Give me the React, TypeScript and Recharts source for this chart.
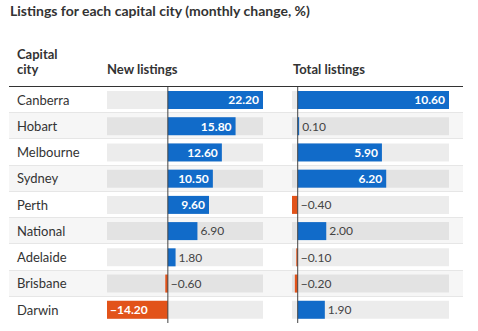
import { BarChart, Bar, XAxis, YAxis, ReferenceLine } from "recharts"

const cities = ["Canberra", "Hobart", "Melbourne", "Sydney", "Perth", "National", "Adelaide", "Brisbane", "Darwin"]
const newListings = [22.2, 15.8, 12.6, 10.5, 9.6, 6.9, 1.8, -0.6, -14.2]
const totalListings = [10.6, 0.1, 5.9, 6.2, -0.4, 2.0, -0.1, -0.2, 1.9]

const data = cities.map((city, i) => ({ city, newL: newListings[i], total: totalListings[i] }))

const BLUE = "#116bc9"
const ORANGE = "#e2531a"
const FONT = "Lato, 'Noto Sans', sans-serif"
const TOP = 87
const ROW_H = 236 / cities.length

const fmt = (v: number) => (v < 0 ? "\u2212" : "") + Math.abs(v).toFixed(2)

function ValueBar(props: any) {
  const { x, y, width, height, payload, k } = props
  const v: number = payload[k]
  const left = Math.min(x, x + width)
  const w = Math.abs(width)
  const zero = v >= 0 ? left : left + w
  const label = fmt(v)
  const inside = w > label.length * 6.5 + 8
  const cy = y + height / 2
  let tx = zero + 3
  let anchor: "start" | "end" = "start"
  if (inside) {
    tx = v >= 0 ? left + w - 4 : left + 3
    anchor = v >= 0 ? "end" : "start"
  } else if (v >= 0) {
    tx = left + w + 3
  }
  return (
    <g>
      <rect x={left} y={y} width={w} height={height} fill={v >= 0 ? BLUE : ORANGE} />
      <text
        x={tx}
        y={cy}
        dy="0.36em"
        textAnchor={anchor}
        fontSize={12}
        fontFamily={FONT}
        fontWeight={inside ? 700 : 400}
        fill={inside ? "#fff" : "#444"}
      >
        {label}
      </text>
    </g>
  )
}

function CityTick(props: any) {
  const { y, payload } = props
  return (
    <text x={8} y={y} dy="0.36em" textAnchor="start" fontSize={13} fontFamily={FONT} fill="#333">
      {payload.value}
    </text>
  )
}

export default function App() {
  return (
    <div style={{ position: "relative", width: 478, height: 331, background: "#fff", fontFamily: FONT, color: "#333" }}>
      <style>{"body{margin:0}"}</style>
      <div style={{ position: "absolute", left: 10, top: 2, fontSize: 14, fontWeight: 700, lineHeight: "18px" }}>
        Listings for each capital city (monthly change, %)
      </div>
      <div style={{ position: "absolute", left: 17, top: 47, fontSize: 13, fontWeight: 700, lineHeight: "15px" }}>
        Capital
        <br />
        city
      </div>
      <div style={{ position: "absolute", left: 107, top: 62, fontSize: 13, fontWeight: 700, lineHeight: "15px" }}>
        New listings
      </div>
      <div style={{ position: "absolute", left: 293, top: 62, fontSize: 13, fontWeight: 700, lineHeight: "15px" }}>
        Total listings
      </div>

      <div style={{ position: "absolute", left: 9, top: TOP, width: 454 }}>
        {cities.map((c, i) => (
          <div
            key={c}
            style={{
              height: ROW_H,
              boxSizing: "border-box",
              background: i % 2 ? "#f6f6f6" : "#fff",
              borderBottom: i < cities.length - 1 ? "1px solid #e6e6e6" : "none",
            }}
          />
        ))}
      </div>
      <div style={{ position: "absolute", left: 9, top: TOP - 1, width: 454, height: 1, background: "#333" }} />

      <div style={{ position: "absolute", left: 9, top: TOP }}>
        <BarChart width={254} height={236} data={data} layout="vertical" margin={{ top: 0, right: 0, bottom: 0, left: 0 }}>
          <XAxis type="number" domain={["dataMin", "dataMax"]} hide />
          <YAxis type="category" dataKey="city" width={98} axisLine={false} tickLine={false} tick={<CityTick />} />
          <Bar
            dataKey="newL"
            barSize={18}
            isAnimationActive={false}
            background={{ fill: "rgba(0,0,0,0.075)" }}
            shape={(p: any) => <ValueBar {...p} k="newL" />}
          />
          <ReferenceLine x={0} stroke="#444" strokeWidth={1} />
        </BarChart>
      </div>

      <div style={{ position: "absolute", left: 263, top: TOP }}>
        <BarChart width={200} height={236} data={data} layout="vertical" margin={{ top: 0, right: 14, bottom: 0, left: 29 }}>
          <XAxis type="number" domain={["dataMin", "dataMax"]} hide />
          <YAxis type="category" dataKey="city" hide />
          <Bar
            dataKey="total"
            barSize={18}
            isAnimationActive={false}
            background={{ fill: "rgba(0,0,0,0.075)" }}
            shape={(p: any) => <ValueBar {...p} k="total" />}
          />
          <ReferenceLine x={0} stroke="#444" strokeWidth={1} />
        </BarChart>
      </div>
    </div>
  )
}
